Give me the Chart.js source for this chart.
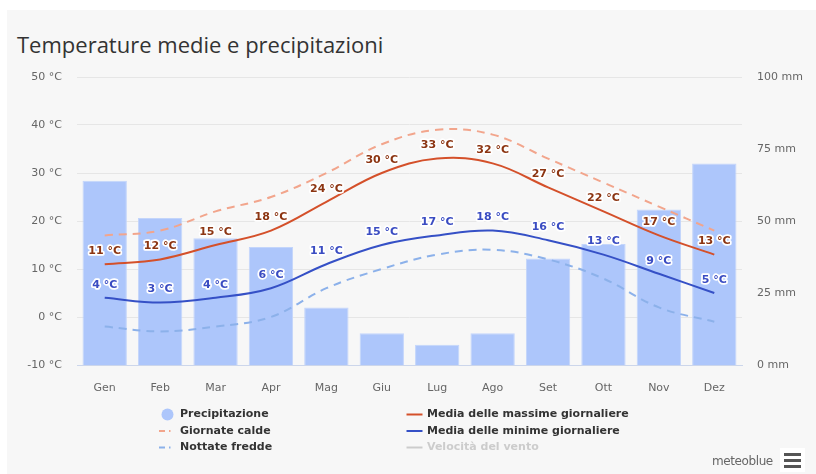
<!DOCTYPE html>
<html>
<head>
<meta charset="utf-8">
<script src="https://cdn.jsdelivr.net/npm/chart.js@4/dist/chart.umd.min.js"></script>
<style>
  html, body { margin: 0; padding: 0; background: #ffffff; width: 816px; height: 474px; overflow: hidden; }
  #panel { position: absolute; left: 7px; top: 10px; width: 809px; height: 464px; background: #f7f7f7; }
  #titolo { position: absolute; left: 10px; top: 23px; margin: 0; font: 22px/22px "Open Sans", sans-serif; color: #333333; white-space: nowrap; font-weight: normal; }
  #grafico { position: absolute; left: 0; top: 0; }
  #credito { position: absolute; left: 705px; top: 444px; font: 12px "DejaVu Sans", sans-serif; color: #666666; letter-spacing: -0.4px; }
  #menu { position: absolute; left: 773px; top: 438px; width: 25px; height: 24px; background: #ffffff; }
  #menu span { position: absolute; left: 4px; width: 17px; height: 3px; background: #555555; }
</style>
</head>
<body>
<div id="panel">
  <h1 id="titolo">Temperature medie e precipitazioni</h1>
  <canvas id="grafico" width="809" height="464"></canvas>
  <div id="credito">meteoblue</div>
  <div id="menu"><span style="top:5px"></span><span style="top:11px"></span><span style="top:17px"></span></div>
</div>
<script>
// Mesi dell'anno
const mesi = ['Gen', 'Feb', 'Mar', 'Apr', 'Mag', 'Giu', 'Lug', 'Ago', 'Set', 'Ott', 'Nov', 'Dez'];

// Precipitazione mensile (mm)
const precipitazione = [64, 51, 44, 41, 20, 11, 7, 11, 37, 42, 54, 70];

// Temperature (°C)
const mediaMassime = [11, 12, 15, 18, 24, 30, 33, 32, 27, 22, 17, 13];
const mediaMinime = [4, 3, 4, 6, 11, 15, 17, 18, 16, 13, 9, 5];
const giornateCalde = [17, 18, 22, 25, 30, 36, 39, 38, 33, 28, 23, 18];
const nottateFredde = [-2, -3, -2, 0, 6, 10, 13, 14, 12, 8, 2, -1];

// Velocità del vento: serie nascosta, mostrata solo in legenda
const velocitaVento = [];

// Valori delle tacche sugli assi
const tacheTemperatura = [-10, 0, 10, 20, 30, 40, 50];
const tacchePrecipitazione = [0, 25, 50, 75, 100];

const FONT = '"DejaVu Sans", sans-serif';

// Etichette dei valori sopra le linee delle medie
const etichettePlugin = {
  id: 'etichetteValori',
  afterDatasetsDraw(chart) {
    const ctx = chart.ctx;
    ctx.save();
    ctx.font = 'bold 11px ' + FONT;
    ctx.textAlign = 'center';
    ctx.textBaseline = 'middle';
    ctx.lineJoin = 'round';
    chart.data.datasets.forEach((ds, i) => {
      if (!ds.coloreEtichetta || !chart.isDatasetVisible(i)) return;
      const meta = chart.getDatasetMeta(i);
      meta.data.forEach((pt, j) => {
        const testo = ds.data[j] + ' °C';
        const y = pt.y - 13;
        ctx.strokeStyle = '#ffffff';
        ctx.lineWidth = 3.5;
        ctx.strokeText(testo, pt.x, y);
        ctx.fillStyle = ds.coloreEtichetta;
        ctx.fillText(testo, pt.x, y);
      });
    });
    ctx.restore();
  }
};

// Legenda su due colonne sotto il grafico
const legendaPlugin = {
  id: 'legendaMeteo',
  afterDraw(chart) {
    const ctx = chart.ctx;
    const colonne = [{ icona: 160.5, testo: 173 }, { icona: 407.5, testo: 420 }];
    const righe = [404.5, 421, 437.5];
    const disposizione = [[5, 0, 0], [2, 0, 1], [3, 0, 2], [0, 1, 0], [1, 1, 1], [4, 1, 2]];
    ctx.save();
    ctx.font = 'bold 11px ' + FONT;
    ctx.textBaseline = 'middle';
    ctx.textAlign = 'left';
    disposizione.forEach(([idx, c, r]) => {
      const ds = chart.data.datasets[idx];
      const visibile = chart.isDatasetVisible(idx);
      const col = colonne[c];
      const y = righe[r];
      const colore = visibile ? (ds.type === 'bar' ? ds.backgroundColor : ds.borderColor) : '#cccccc';
      if (ds.type === 'bar') {
        ctx.fillStyle = colore;
        ctx.beginPath();
        ctx.arc(col.icona, y, 6, 0, Math.PI * 2);
        ctx.fill();
      } else {
        ctx.strokeStyle = colore;
        ctx.lineWidth = 2;
        ctx.beginPath();
        if (ds.borderDash && ds.borderDash.length) {
          ctx.moveTo(col.icona - 8.5, y); ctx.lineTo(col.icona - 2.5, y);
          ctx.moveTo(col.icona + 1.5, y); ctx.lineTo(col.icona + 3, y);
        } else {
          ctx.moveTo(col.icona - 8, y); ctx.lineTo(col.icona + 8, y);
        }
        ctx.stroke();
      }
      ctx.fillStyle = visibile ? '#333333' : '#cccccc';
      ctx.fillText(ds.label, col.testo, y);
    });
    ctx.restore();
  }
};

const lineaBase = {
  type: 'line',
  yAxisID: 'y',
  borderWidth: 2,
  pointRadius: 0,
  pointHoverRadius: 0,
  tension: 0.38,
  fill: false,
  order: 0
};

new Chart(document.getElementById('grafico'), {
  data: {
    labels: mesi,
    datasets: [
      Object.assign({}, lineaBase, {
        label: 'Media delle massime giornaliere',
        data: mediaMassime,
        borderColor: '#d4502a',
        coloreEtichetta: '#8c3512'
      }),
      Object.assign({}, lineaBase, {
        label: 'Media delle minime giornaliere',
        data: mediaMinime,
        borderColor: '#3550c6',
        coloreEtichetta: '#3a4cc2'
      }),
      Object.assign({}, lineaBase, {
        label: 'Giornate calde',
        data: giornateCalde,
        borderColor: '#f2a58c',
        borderDash: [8, 6]
      }),
      Object.assign({}, lineaBase, {
        label: 'Nottate fredde',
        data: nottateFredde,
        borderColor: '#8cb1ea',
        borderDash: [8, 6]
      }),
      Object.assign({}, lineaBase, {
        label: 'Velocità del vento',
        data: velocitaVento,
        borderColor: '#cccccc',
        hidden: true
      }),
      {
        type: 'bar',
        label: 'Precipitazione',
        data: precipitazione,
        yAxisID: 'y1',
        backgroundColor: '#adc6fb',
        borderColor: '#c3d5fb',
        borderWidth: 1,
        barPercentage: 0.8,
        categoryPercentage: 1,
        order: 1
      }
    ]
  },
  options: {
    responsive: false,
    animation: false,
    devicePixelRatio: 1,
    layout: { padding: { top: 67, left: 0, right: 0, bottom: 77 } },
    plugins: {
      legend: { display: false },
      title: { display: false },
      tooltip: { enabled: false }
    },
    scales: {
      x: {
        grid: { display: false },
        border: { display: true, color: '#ccd6eb', width: 1 },
        ticks: { color: '#666666', font: { family: FONT, size: 11 }, padding: 9, maxRotation: 0 },
        afterFit(s) { s.height = 32; }
      },
      y: {
        position: 'left',
        min: tacheTemperatura[0],
        max: tacheTemperatura[tacheTemperatura.length - 1],
        afterBuildTicks(s) { s.ticks = tacheTemperatura.map(v => ({ value: v })); },
        grid: { color: '#e6e6e6', lineWidth: 1, drawTicks: false },
        border: { display: false },
        ticks: { color: '#666666', font: { family: FONT, size: 11 }, padding: 15, callback: v => v + ' °C' },
        afterFit(s) { s.width = 70; }
      },
      y1: {
        position: 'right',
        min: tacchePrecipitazione[0],
        max: tacchePrecipitazione[tacchePrecipitazione.length - 1],
        afterBuildTicks(s) { s.ticks = tacchePrecipitazione.map(v => ({ value: v })); },
        grid: { display: false, drawTicks: false },
        border: { display: false },
        ticks: { color: '#666666', font: { family: FONT, size: 11 }, padding: 15, callback: v => v + ' mm' },
        afterFit(s) { s.width = 74; }
      }
    }
  },
  plugins: [etichettePlugin, legendaPlugin]
});
</script>
</body>
</html>
